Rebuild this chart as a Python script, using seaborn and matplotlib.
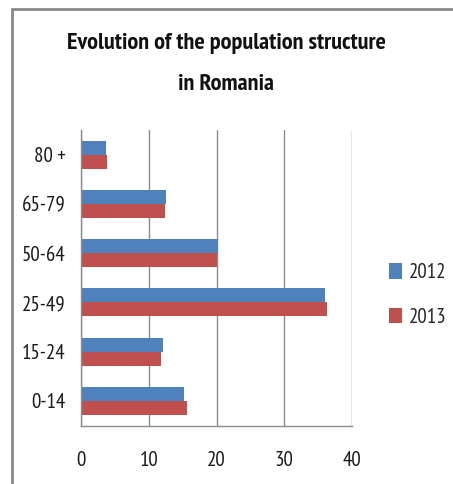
import matplotlib
matplotlib.use("Agg")
import matplotlib.pyplot as plt
from matplotlib.lines import Line2D
from matplotlib.patches import Patch
import pandas as pd
import seaborn as sns

# Age groups (top to bottom) and share of population (%)
age_groups = ["80 +", "65-79", "50-64", "25-49", "15-24", "0-14"]
years = ["2012", "2013"]
share_2012 = [3.7, 12.5, 20.2, 36.0, 12.1, 15.2]
share_2013 = [3.8, 12.4, 20.0, 36.3, 11.8, 15.7]
x_ticks = [0, 10, 20, 30, 40]
title_text = "Evolution of the population structure\nin Romania"

colors = {"2012": "#4F81BD", "2013": "#C0504D"}

df = pd.DataFrame({
    "age": age_groups * 2,
    "year": [years[0]] * len(age_groups) + [years[1]] * len(age_groups),
    "share": share_2012 + share_2013,
})

sns.set_style("white")
plt.rcParams["font.family"] = ["PT Sans Narrow", "DejaVu Sans"]

W, H = 453, 484
fig = plt.figure(figsize=(W / 100, H / 100), dpi=100)
fig.patch.set_facecolor("white")

left, right, top, bottom = 81, 352, 130, 425.5
ax = fig.add_axes([left / W, 1 - bottom / H, (right - left) / W, (bottom - top) / H])

sns.barplot(data=df, y="age", x="share", hue="year", order=age_groups,
            hue_order=years, palette=colors, orient="h", width=0.57,
            saturation=1, ax=ax, legend=False, linewidth=0)

grid_col = "#8C8C8C"
text_col = "#1a1a1a"
ax.set_xlim(0, 40)
ax.set_xticks(x_ticks)
ax.set_xticklabels([str(t) for t in x_ticks])
ax.xaxis.grid(True, color=grid_col, linewidth=1)
ax.set_axisbelow(True)
ax.set_xlabel("")
ax.set_ylabel("")
for s in ["top", "right"]:
    ax.spines[s].set_visible(False)
for s in ["left", "bottom"]:
    ax.spines[s].set_color(grid_col)
    ax.spines[s].set_linewidth(1)
ax.tick_params(axis="x", length=5, width=1, color=grid_col, pad=13,
               labelsize=15, labelcolor=text_col)
ax.tick_params(axis="y", length=0, pad=11, labelsize=15, labelcolor=text_col)

fig.text(226 / W, 1 - 64 / H, title_text, ha="center", va="center",
         fontsize=17.5, fontweight="bold", linespacing=2.3, color="#111111")

handles = [Patch(facecolor=colors[y], edgecolor="none", label=y) for y in years]
fig.legend(handles=handles, loc="center left",
           bbox_to_anchor=(389 / W, 1 - 295 / H), frameon=False,
           borderaxespad=0, borderpad=0,
           fontsize=15, handlelength=0.6, handleheight=0.8,
           handletextpad=0.35, labelspacing=1.2)

# Chart-area frame
fig.add_artist(Line2D([12 / W, 12 / W], [0, 1 - 9 / H], transform=fig.transFigure,
                      color="#8a8a8a", linewidth=2))
fig.add_artist(Line2D([12 / W, 1], [1 - 9 / H, 1 - 9 / H], transform=fig.transFigure,
                      color="#8a8a8a", linewidth=2))

fig.savefig("out.png", dpi=100)
